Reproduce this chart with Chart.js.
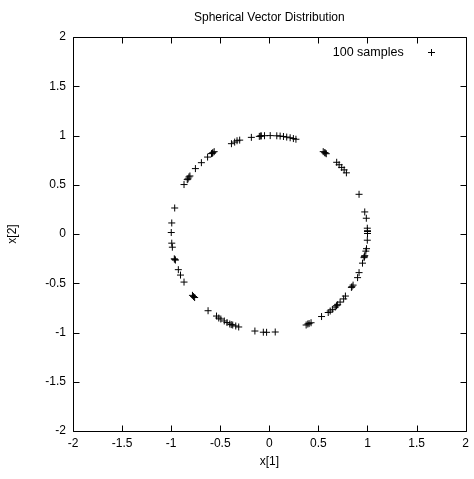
<!DOCTYPE html>
<html>
<head>
<meta charset="utf-8">
<script src="https://cdn.jsdelivr.net/npm/chart.js@4/dist/chart.umd.min.js"></script>
<style>
  html, body { margin: 0; padding: 0; background: #fff; }
</style>
</head>
<body>
<canvas id="chart" width="474" height="479"></canvas>
<script>
// 100 sample vectors (x[1], x[2])
var sampleX = [
  -0.869, -0.836, -0.819, -0.809, -0.753, -0.692, -0.629, -0.589, -0.575, -0.562,
  -0.386, -0.353, -0.329, -0.302, -0.183, -0.102, -0.082, -0.049, 0.009, 0.076,
  0.110, 0.144, 0.177, 0.212, 0.245, 0.271, 0.549, 0.564, 0.580, 0.686,
  0.711, 0.737, 0.762, 0.785, 0.914, 0.972, 0.988, 0.998, 1.000, 1.000,
  0.998, 0.990, 0.983, 0.972, 0.965, 0.949, 0.914, 0.899, 0.853, 0.836,
  0.775, 0.757, 0.721, 0.696, 0.671, 0.645, 0.620, 0.600, 0.532, 0.425,
  0.392, 0.375, 0.060, -0.028, -0.061, -0.147, -0.312, -0.342, -0.373, -0.403,
  -0.431, -0.459, -0.494, -0.515, -0.538, -0.624, -0.761, -0.783, -0.869, -0.905,
  -0.927, -0.957, -0.968, -0.988, -0.994, -0.999, -0.994, -0.964, -0.088, -0.580,
  0.570, 1.000, 0.968, 0.842, 0.405, -0.962, -0.772, 0.684, -0.388, -0.828
];
var sampleY = [
  0.502, 0.552, 0.579, 0.589, 0.664, 0.724, 0.781, 0.816, 0.826, 0.836,
  0.917, 0.933, 0.947, 0.953, 0.981, 0.991, 0.996, 0.998, 0.999, 0.997,
  0.994, 0.990, 0.984, 0.977, 0.969, 0.962, 0.836, 0.826, 0.815, 0.728,
  0.703, 0.676, 0.651, 0.621, 0.403, 0.224, 0.160, 0.059, 0.033, 0.005,
  -0.063, -0.149, -0.174, -0.220, -0.240, -0.296, -0.392, -0.443, -0.519, -0.542,
  -0.630, -0.659, -0.691, -0.718, -0.742, -0.765, -0.782, -0.797, -0.838, -0.901,
  -0.914, -0.924, -0.995, -0.998, -0.997, -0.985, -0.944, -0.934, -0.924, -0.914,
  -0.899, -0.883, -0.863, -0.853, -0.833, -0.779, -0.645, -0.623, -0.488, -0.417,
  -0.362, -0.265, -0.252, -0.134, -0.093, 0.015, 0.112, 0.264, 0.995, 0.820,
  0.822, 0.025, -0.230, -0.535, -0.910, -0.258, -0.635, -0.728, -0.920, 0.560
];
var seriesLabel = '100 samples';

var xTickValues = [-2, -1.5, -1, -0.5, 0, 0.5, 1, 1.5, 2];
var xTickLabels = ['-2', '-1.5', '-1', '-0.5', '0', '0.5', '1', '1.5', '2'];
var yTickValues = [-2, -1.5, -1, -0.5, 0, 0.5, 1, 1.5, 2];
var yTickLabels = ['-2', '-1.5', '-1', '-0.5', '0', '0.5', '1', '1.5', '2'];

var FONT = 'Arial, "Liberation Sans", Helvetica, sans-serif';

var points = sampleX.map(function(x, i) {
  return { x: x, y: sampleY[i] };
});

function fixedTicks(values) {
  return function(scale) {
    scale.ticks = values.map(function(v) { return { value: v }; });
  };
}

// border box with inward ticks on all four sides, like gnuplot
var frameTicks = {
  id: 'frameTicks',
  beforeDatasetsDraw: function(chart) {
    var ctx = chart.ctx;
    var a = chart.chartArea;
    var l = Math.round(a.left) + 0.5, r = Math.round(a.right) + 0.5;
    var t = Math.round(a.top) + 0.5, b = Math.round(a.bottom) + 0.5;
    var len = 6;
    ctx.save();
    ctx.strokeStyle = '#000';
    ctx.lineWidth = 1;
    ctx.beginPath();
    ctx.rect(l, t, r - l, b - t);
    chart.scales.x.ticks.forEach(function(tk) {
      var px = Math.round(chart.scales.x.getPixelForValue(tk.value)) + 0.5;
      ctx.moveTo(px, b); ctx.lineTo(px, b - len);
      ctx.moveTo(px, t); ctx.lineTo(px, t + len);
    });
    chart.scales.y.ticks.forEach(function(tk) {
      var py = Math.round(chart.scales.y.getPixelForValue(tk.value)) + 0.5;
      ctx.moveTo(l, py); ctx.lineTo(l + len, py);
      ctx.moveTo(r, py); ctx.lineTo(r - len, py);
    });
    ctx.stroke();
    ctx.restore();
  }
};

// key in the top right corner: text first, then the marker
var insideKey = {
  id: 'insideKey',
  afterDatasetsDraw: function(chart) {
    var ctx = chart.ctx;
    var a = chart.chartArea;
    var y = Math.round(a.top + 15) + 0.5;
    var mx = Math.round(a.right - 35) + 0.5;
    ctx.save();
    ctx.font = '12.5px ' + FONT;
    ctx.fillStyle = '#000';
    ctx.textAlign = 'right';
    ctx.textBaseline = 'middle';
    ctx.fillText(chart.data.datasets[0].label, a.right - 62, y);
    ctx.strokeStyle = '#000';
    ctx.lineWidth = 1;
    ctx.beginPath();
    ctx.moveTo(mx - 3.5, y); ctx.lineTo(mx + 3.5, y);
    ctx.moveTo(mx, y - 3.5); ctx.lineTo(mx, y + 3.5);
    ctx.stroke();
    ctx.restore();
  }
};

var ctx = document.getElementById('chart').getContext('2d');
var chart = new Chart(ctx, {
  type: 'scatter',
  data: {
    datasets: [{
      label: seriesLabel,
      data: points,
      pointStyle: 'cross',
      pointRadius: 3.5,
      pointHoverRadius: 3.5,
      borderWidth: 1,
      borderColor: '#000',
      backgroundColor: '#000'
    }]
  },
  options: {
    responsive: false,
    animation: false,
    events: [],
    layout: { padding: { left: 0, right: 6, top: 0, bottom: 0 } },
    plugins: {
      legend: { display: false },
      tooltip: { enabled: false },
      title: {
        display: true,
        text: 'Spherical Vector Distribution',
        fullSize: false,
        color: '#000',
        font: { family: FONT, size: 12, weight: 'normal' },
        padding: { top: 10, bottom: 12.6 }
      }
    },
    scales: {
      x: {
        type: 'linear',
        min: -2,
        max: 2,
        afterBuildTicks: fixedTicks(xTickValues),
        afterFit: function(scale) { scale.height = 48; },
        grid: { display: false, drawTicks: false },
        border: { display: false },
        ticks: {
          padding: 5,
          color: '#000',
          font: { family: FONT, size: 12 },
          callback: function(v) { return xTickLabels[xTickValues.indexOf(v)]; }
        },
        title: {
          display: true,
          text: 'x[1]',
          color: '#000',
          font: { family: FONT, size: 12 },
          padding: { top: 0, bottom: 10 }
        }
      },
      y: {
        type: 'linear',
        min: -2,
        max: 2,
        afterBuildTicks: fixedTicks(yTickValues),
        afterFit: function(scale) { scale.width = 73; },
        grid: { display: false, drawTicks: false },
        border: { display: false },
        ticks: {
          padding: 7,
          color: '#000',
          font: { family: FONT, size: 12 },
          callback: function(v) { return yTickLabels[yTickValues.indexOf(v)]; }
        },
        title: {
          display: true,
          text: 'x[2]',
          color: '#000',
          font: { family: FONT, size: 12 },
          padding: { top: 5, bottom: 0 }
        }
      }
    }
  },
  plugins: [frameTicks, insideKey]
});
</script>
</body>
</html>
